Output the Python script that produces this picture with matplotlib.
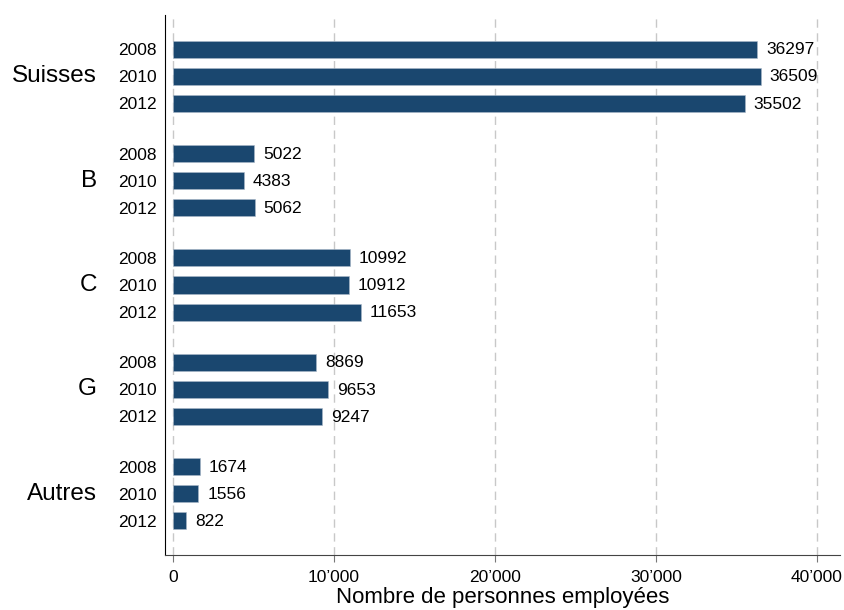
import matplotlib.pyplot as plt
from matplotlib.ticker import FuncFormatter
import matplotlib.transforms as mtransforms

plt.rcParams['font.family'] = ['Liberation Sans', 'DejaVu Sans']

# Données
groups = ["Suisses", "B", "C", "G", "Autres"]
years = ["2008", "2010", "2012"]
values = [
    [36297, 36509, 35502],
    [5022, 4383, 5062],
    [10992, 10912, 11653],
    [8869, 9653, 9247],
    [1674, 1556, 822],
]

bar_color = "#1a476f"
group_step = 104 / 27

fig = plt.figure(figsize=(8.45, 6.1), dpi=100)
ax = fig.add_axes([165 / 845, 1 - 555 / 610, 675 / 845, 540 / 610])

ypos, ylabels, vals = [], [], []
for gi, grp in enumerate(groups):
    for j, yr in enumerate(years):
        ypos.append(gi * group_step + j)
        ylabels.append(yr)
        vals.append(values[gi][j])

ax.barh(ypos, vals, height=0.63, color=bar_color, edgecolor="#a9b8c8",
        linewidth=0.4, zorder=3)
for y, v in zip(ypos, vals):
    ax.annotate(str(v), (v, y), xytext=(6.5, -0.5), textcoords="offset points",
                va="center", ha="left", fontsize=12.5, zorder=4)

ax.set_yticks(ypos)
ax.set_yticklabels(ylabels, fontsize=12.5)
ax.tick_params(axis="y", length=0, pad=6)

trans = mtransforms.blended_transform_factory(fig.transFigure, ax.transData)
for gi, grp in enumerate(groups):
    ax.text(97 / 845, gi * group_step + 1, grp, transform=trans,
            ha="right", va="center", fontsize=17.5)

last = ypos[-1]
ax.set_ylim(last + 34 / 27, -34 / 27)
ax.set_xlim(-500, 41430)

ax.set_xticks([0, 10000, 20000, 30000, 40000])
ax.xaxis.set_major_formatter(FuncFormatter(lambda x, p: f"{int(x):,}".replace(",", "\u2019")))
ax.tick_params(axis="x", labelsize=12.5, length=5, color="#777777", pad=5.5)
ax.set_xlabel("Nombre de personnes employées", fontsize=16, labelpad=1.5)

ax.grid(axis="x", linestyle=(0, (6, 4)), color="#c8c8c8", linewidth=1, zorder=0)
ax.spines["top"].set_visible(False)
ax.spines["right"].set_visible(False)
ax.spines["left"].set_color("black")
ax.spines["bottom"].set_color("#444444")

fig.savefig("out.png", dpi=100)
